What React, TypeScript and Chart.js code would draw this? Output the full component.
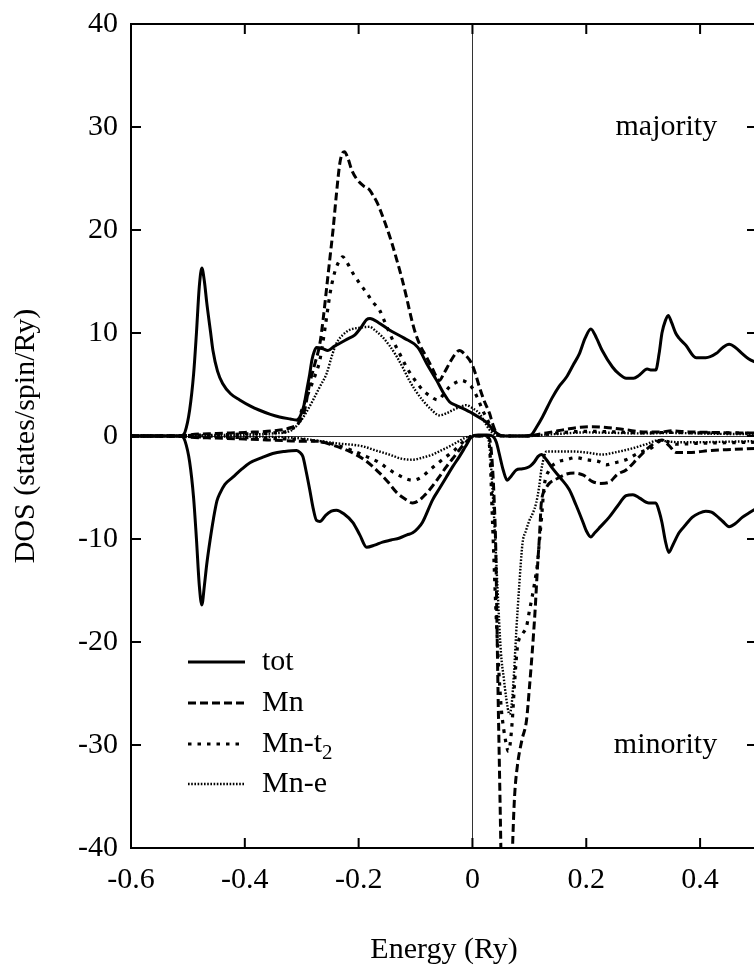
import React, { useEffect, useRef } from "react";
import { Chart, registerables } from "chart.js";

Chart.register(...registerables);

const FONT = "'Liberation Serif', 'Times New Roman', serif";

const xTickValues = [-0.6, -0.4, -0.2, 0, 0.2, 0.4];
const xTickLabels = ["-0.6", "-0.4", "-0.2", "0", "0.2", "0.4"];
const yTickValues = [-40, -30, -20, -10, 0, 10, 20, 30, 40];
const yTickLabels = ["-40", "-30", "-20", "-10", "0", "10", "20", "30", "40"];

const legendLabels = ["tot", "Mn", "Mn-t", "Mn-e"];

// ---- majority (spin up) ----
const totUpE = [-0.6, -0.52, -0.51, -0.505, -0.497, -0.49, -0.485, -0.48, -0.4755, -0.471, -0.467, -0.46, -0.456, -0.448, -0.439, -0.425, -0.409, -0.39, -0.374, -0.355, -0.339, -0.32, -0.309, -0.302, -0.296, -0.291, -0.286, -0.282, -0.278, -0.274, -0.264, -0.254, -0.243, -0.233, -0.22, -0.207, -0.195, -0.186, -0.18, -0.165, -0.146, -0.12, -0.096, -0.08, -0.063, -0.05, -0.04, -0.03, -0.018, 0, 0.012, 0.025, 0.035, 0.042, 0.05, 0.07, 0.09, 0.1, 0.105, 0.112, 0.123, 0.14, 0.152, 0.165, 0.177, 0.188, 0.198, 0.208, 0.218, 0.228, 0.246, 0.258, 0.27, 0.283, 0.293, 0.307, 0.315, 0.322, 0.328, 0.333, 0.339, 0.344, 0.35, 0.357, 0.363, 0.375, 0.393, 0.41, 0.428, 0.44, 0.451, 0.462, 0.474, 0.485, 0.5];
const totUpV = [0, 0, 0.05, 0.4, 2.5, 6, 10, 14.5, 16.3, 15, 13, 10, 8.3, 6.3, 5.1, 4.1, 3.5, 2.9, 2.5, 2.1, 1.85, 1.65, 1.55, 2.0, 3.0, 4.5, 6.0, 7.4, 8.2, 8.6, 8.5, 8.3, 8.7, 9.0, 9.4, 9.8, 10.6, 11.3, 11.4, 11.0, 10.3, 9.5, 8.6, 7.0, 5.4, 4.1, 3.3, 3.0, 2.7, 2.2, 1.8, 1.3, 0.7, 0.3, 0.05, 0, 0, 0.05, 0.2, 0.8, 1.85, 3.7, 4.8, 5.7, 6.9, 8.0, 9.5, 10.4, 9.5, 8.3, 6.7, 6.0, 5.6, 5.6, 5.9, 6.5, 6.4, 6.4, 8.0, 10.0, 11.2, 11.7, 11.0, 10.0, 9.5, 8.8, 7.6, 7.6, 8.0, 8.6, 8.9, 8.6, 8.0, 7.5, 7.1];

const mnUpE = [-0.6, -0.51, -0.5, -0.45, -0.4, -0.35, -0.32, -0.305, -0.295, -0.286, -0.277, -0.268, -0.262, -0.256, -0.25, -0.245, -0.239, -0.233, -0.228, -0.225, -0.219, -0.212, -0.204, -0.192, -0.181, -0.174, -0.167, -0.159, -0.151, -0.142, -0.133, -0.124, -0.116, -0.109, -0.102, -0.092, -0.081, -0.07, -0.058, -0.05, -0.04, -0.031, -0.023, -0.013, -0.002, 0.005, 0.012, 0.02, 0.03, 0.036, 0.042, 0.05, 0.1, 0.11, 0.13, 0.15, 0.17, 0.19, 0.21, 0.24, 0.27, 0.3, 0.33, 0.35, 0.38, 0.42, 0.46, 0.5];
const mnUpV = [0, 0, 0.1, 0.25, 0.35, 0.5, 0.8, 1.3, 2.5, 5.1, 7.0, 9.0, 11.5, 14.5, 17.5, 20, 23.5, 26.5, 27.5, 27.6, 27, 25.8, 25, 24.3, 23.9, 23.3, 22.6, 21.5, 20.3, 18.8, 17.1, 15.3, 13.5, 11.8, 10.3, 8.8, 7.7, 6.5, 5.4, 6.1, 7.1, 7.9, 8.3, 7.9, 7.1, 6.1, 4.8, 3.5, 2.2, 1.1, 0.3, 0, 0, 0.1, 0.3, 0.5, 0.7, 0.85, 0.9, 0.8, 0.6, 0.4, 0.4, 0.5, 0.4, 0.35, 0.3, 0.3];

const t2UpE = [-0.6, -0.51, -0.5, -0.45, -0.4, -0.35, -0.32, -0.309, -0.298, -0.286, -0.277, -0.268, -0.259, -0.25, -0.244, -0.239, -0.233, -0.228, -0.222, -0.21, -0.198, -0.186, -0.175, -0.163, -0.152, -0.14, -0.128, -0.116, -0.102, -0.088, -0.075, -0.061, -0.05, -0.04, -0.029, -0.019, -0.01, -0.002, 0.008, 0.018, 0.027, 0.035, 0.045, 0.06, 0.1, 0.12, 0.15, 0.2, 0.25, 0.3, 0.35, 0.4, 0.45, 0.5];
const t2UpV = [0, 0, 0.05, 0.1, 0.2, 0.3, 0.6, 1.2, 2.8, 4.5, 5.8, 7.4, 10.5, 13.9, 15.5, 16.4, 17.1, 17.4, 17.0, 15.8, 14.8, 13.9, 13.0, 12.2, 10.8, 9.3, 8.0, 6.7, 5.5, 4.5, 3.9, 3.5, 4.1, 4.8, 5.2, 5.4, 5.2, 4.8, 3.8, 2.5, 1.5, 0.6, 0.1, 0, 0, 0.1, 0.3, 0.45, 0.4, 0.3, 0.35, 0.3, 0.3, 0.25];

const eUpE = [-0.6, -0.51, -0.5, -0.45, -0.4, -0.35, -0.32, -0.304, -0.292, -0.28, -0.268, -0.256, -0.248, -0.239, -0.228, -0.216, -0.2, -0.181, -0.17, -0.158, -0.146, -0.133, -0.122, -0.111, -0.1, -0.088, -0.073, -0.058, -0.046, -0.035, -0.023, -0.011, 0, 0.012, 0.022, 0.03, 0.04, 0.05, 0.1, 0.12, 0.15, 0.2, 0.25, 0.3, 0.35, 0.4, 0.45, 0.5];
const eUpV = [0, 0, 0.05, 0.1, 0.15, 0.25, 0.5, 1.3, 2.3, 3.5, 4.8, 6.1, 7.6, 9.0, 9.8, 10.3, 10.5, 10.6, 10.2, 9.6, 8.8, 7.7, 6.6, 5.4, 4.4, 3.5, 2.6, 2.0, 2.2, 2.5, 2.8, 3.0, 2.7, 2.2, 1.3, 0.6, 0.15, 0, 0, 0.1, 0.2, 0.35, 0.3, 0.25, 0.3, 0.25, 0.2, 0.2];

// ---- minority (spin down) ----
const totDnE = [-0.6, -0.52, -0.51, -0.505, -0.497, -0.49, -0.485, -0.48, -0.4755, -0.471, -0.467, -0.461, -0.455, -0.449, -0.444, -0.435, -0.421, -0.405, -0.391, -0.37, -0.351, -0.33, -0.309, -0.303, -0.298, -0.292, -0.286, -0.28, -0.274, -0.268, -0.258, -0.248, -0.239, -0.225, -0.21, -0.198, -0.186, -0.172, -0.158, -0.143, -0.128, -0.115, -0.105, -0.095, -0.088, -0.07, -0.058, -0.046, -0.035, -0.023, -0.012, -0.002, 0.01, 0.025, 0.035, 0.042, 0.047, 0.054, 0.061, 0.068, 0.077, 0.086, 0.095, 0.102, 0.109, 0.115, 0.121, 0.13, 0.14, 0.155, 0.17, 0.182, 0.193, 0.2, 0.208, 0.215, 0.225, 0.24, 0.255, 0.27, 0.282, 0.293, 0.31, 0.322, 0.328, 0.333, 0.339, 0.345, 0.352, 0.363, 0.375, 0.386, 0.398, 0.41, 0.42, 0.428, 0.44, 0.451, 0.462, 0.474, 0.485, 0.5];
const totDnV = [0, 0, -0.05, -0.5, -2.5, -6, -10, -14.5, -16.4, -14.5, -12.5, -10.1, -8, -6.3, -5.6, -4.7, -4.0, -3.2, -2.6, -2.1, -1.7, -1.5, -1.4, -1.6, -2.0, -3.5, -5.2, -7.0, -8.2, -8.3, -7.7, -7.3, -7.2, -7.6, -8.4, -9.6, -10.8, -10.6, -10.3, -10.1, -9.9, -9.6, -9.4, -8.9, -8.4, -6.2, -5.1, -4.0, -3.0, -2.0, -1.0, -0.1, 0.1, 0.1, 0, -0.6, -1.7, -3.3, -4.3, -3.9, -3.3, -3.2, -3.1, -2.9, -2.5, -2.0, -1.8, -2.3, -3.1, -4.1, -5.2, -6.7, -8.2, -9.2, -9.8, -9.4, -8.8, -7.9, -6.8, -5.8, -5.7, -6.0, -6.5, -6.5, -7.3, -8.4, -10.2, -11.3, -10.6, -9.4, -8.6, -7.9, -7.5, -7.3, -7.4, -7.7, -8.3, -8.8, -8.5, -7.9, -7.5, -7.0];

const mnDnE = [-0.6, -0.51, -0.5, -0.45, -0.4, -0.35, -0.3, -0.274, -0.245, -0.216, -0.19, -0.163, -0.148, -0.133, -0.119, -0.105, -0.095, -0.085, -0.075, -0.06, -0.046, -0.032, -0.018, -0.008, 0, 0.02, 0.03, 0.034, 0.038, 0.041, 0.043, 0.045, 0.047, 0.049, 0.051, 0.06, 0.069, 0.071, 0.074, 0.079, 0.087, 0.095, 0.1, 0.105, 0.11, 0.114, 0.118, 0.121, 0.128, 0.135, 0.15, 0.165, 0.18, 0.195, 0.21, 0.225, 0.24, 0.255, 0.27, 0.29, 0.31, 0.333, 0.345, 0.358, 0.38, 0.42, 0.46, 0.5];
const mnDnV = [0, 0, -0.1, -0.2, -0.3, -0.4, -0.5, -0.5, -0.9, -1.5, -2.3, -3.6, -4.5, -5.5, -6.1, -6.5, -6.3, -5.8, -5.2, -4.1, -3.0, -2.0, -1.0, -0.4, 0, 0, -0.3, -2, -6, -11, -18, -25, -31, -37, -43, -50, -43, -39, -35, -32, -29.5, -27.6, -24.5, -21, -17, -13, -9.5, -6.5, -5.2, -4.6, -4.1, -3.7, -3.6, -3.8, -4.4, -4.6, -4.5, -3.7, -3.3, -2.2, -1.1, -0.4, -0.9, -1.6, -1.6, -1.4, -1.3, -1.2];

const t2DnE = [-0.6, -0.51, -0.5, -0.45, -0.4, -0.35, -0.3, -0.274, -0.245, -0.216, -0.186, -0.163, -0.148, -0.133, -0.119, -0.105, -0.09, -0.075, -0.06, -0.046, -0.032, -0.019, -0.008, 0, 0.025, 0.03, 0.035, 0.042, 0.05, 0.055, 0.059, 0.063, 0.066, 0.07, 0.074, 0.079, 0.087, 0.095, 0.1, 0.105, 0.11, 0.114, 0.118, 0.121, 0.126, 0.135, 0.147, 0.165, 0.182, 0.2, 0.223, 0.235, 0.25, 0.27, 0.29, 0.316, 0.333, 0.345, 0.358, 0.4, 0.45, 0.5];
const t2DnV = [0, 0, -0.05, -0.1, -0.15, -0.25, -0.35, -0.5, -0.8, -1.3, -2.0, -2.6, -3.2, -3.7, -4.1, -4.3, -4.0, -3.3, -2.6, -2.0, -1.4, -0.7, -0.2, 0, 0, -1, -8, -17.9, -26, -28.5, -29.8, -30.6, -30, -27.6, -24, -20.5, -19.3, -18.5, -17, -15.6, -14, -12.5, -10, -8.2, -4.9, -3.3, -2.6, -2.3, -2.1, -2.3, -2.5, -2.8, -2.6, -2.3, -1.7, -1.1, -0.4, -0.6, -0.8, -0.7, -0.65, -0.6];

const eDnE = [-0.6, -0.51, -0.45, -0.4, -0.34, -0.3, -0.28, -0.24, -0.193, -0.17, -0.146, -0.125, -0.105, -0.088, -0.07, -0.055, -0.04, -0.027, -0.014, 0, 0.025, 0.03, 0.035, 0.04, 0.044, 0.05, 0.055, 0.059, 0.065, 0.069, 0.073, 0.077, 0.082, 0.088, 0.094, 0.1, 0.106, 0.112, 0.117, 0.121, 0.126, 0.13, 0.153, 0.175, 0.2, 0.228, 0.25, 0.281, 0.305, 0.328, 0.34, 0.36, 0.4, 0.45, 0.5];
const eDnV = [0, 0, -0.05, -0.05, -0.1, -0.25, -0.4, -0.7, -1.0, -1.4, -1.8, -2.2, -2.3, -2.1, -1.8, -1.4, -1.0, -0.6, -0.2, 0, 0, -1, -5, -10, -14.7, -21, -23.5, -25.3, -27, -26, -23, -19, -14.7, -10.4, -9.2, -8.2, -7.5, -6.5, -5, -3.3, -2.0, -1.5, -1.5, -1.5, -1.6, -1.8, -1.6, -1.2, -0.8, -0.4, -0.5, -0.6, -0.6, -0.55, -0.5];

type Style = { width: number; dash: number[] };
const STYLE_TOT: Style = { width: 3, dash: [] };
const STYLE_MN: Style = { width: 3, dash: [8, 4] };
const STYLE_T2: Style = { width: 3.2, dash: [3.5, 6] };
const STYLE_E: Style = { width: 2.4, dash: [1.6, 1.6] };

function pts(E: number[], V: number[]) {
  return E.map((x, i) => ({ x, y: V[i] }));
}

function ds(label: string, E: number[], V: number[], s: Style) {
  return {
    label,
    data: pts(E, V),
    borderColor: "#000",
    backgroundColor: "#000",
    borderWidth: s.width,
    borderDash: s.dash,
    pointRadius: 0,
    pointHoverRadius: 0,
    fill: false,
    cubicInterpolationMode: "monotone" as const,
    clip: 0,
  };
}

const decorPlugin = {
  id: "decor",
  beforeDatasetsDraw(chart: any) {
    const { ctx, chartArea, scales } = chart;
    const { left, right, top, bottom } = chartArea;
    const x0 = Math.round(scales.x.getPixelForValue(0)) + 0.5;
    const y0 = Math.round(scales.y.getPixelForValue(0)) + 0.5;
    ctx.save();
    ctx.strokeStyle = "#333";
    ctx.lineWidth = 1;
    ctx.beginPath();
    ctx.moveTo(x0, top);
    ctx.lineTo(x0, bottom);
    ctx.moveTo(left, y0);
    ctx.lineTo(right, y0);
    ctx.stroke();
    ctx.restore();
  },
  afterDatasetsDraw(chart: any) {
    const { ctx, chartArea, scales } = chart;
    const { left, right, top, bottom } = chartArea;
    ctx.save();
    ctx.strokeStyle = "#000";
    ctx.lineWidth = 2;
    ctx.setLineDash([]);
    ctx.strokeRect(left, top, right - left, bottom - top);
    ctx.beginPath();
    for (const v of xTickValues) {
      const px = scales.x.getPixelForValue(v);
      ctx.moveTo(px, bottom);
      ctx.lineTo(px, bottom - 10);
      ctx.moveTo(px, top);
      ctx.lineTo(px, top + 10);
    }
    for (const v of yTickValues) {
      const py = scales.y.getPixelForValue(v);
      ctx.moveTo(left, py);
      ctx.lineTo(left + 10, py);
      ctx.moveTo(right, py);
      ctx.lineTo(right - 10, py);
    }
    ctx.stroke();

    // annotations
    ctx.fillStyle = "#000";
    ctx.font = `30px ${FONT}`;
    ctx.textAlign = "right";
    ctx.textBaseline = "middle";
    ctx.fillText("majority", scales.x.getPixelForValue(0.43), scales.y.getPixelForValue(30));
    ctx.fillText("minority", scales.x.getPixelForValue(0.43), scales.y.getPixelForValue(-30));

    // legend
    const styles = [STYLE_TOT, STYLE_MN, STYLE_T2, STYLE_E];
    const rowY = [638, 679, 720, 760];
    const lx0 = left + 57;
    const lx1 = left + 114;
    const tx = left + 131;
    for (let i = 0; i < 4; i++) {
      const y = top + rowY[i];
      ctx.beginPath();
      ctx.lineWidth = styles[i].width;
      ctx.setLineDash(styles[i].dash);
      ctx.moveTo(lx0, y);
      ctx.lineTo(lx1, y);
      ctx.stroke();
      ctx.setLineDash([]);
      ctx.textAlign = "left";
      ctx.font = `30px ${FONT}`;
      ctx.fillText(legendLabels[i], tx, y);
      if (i === 2) {
        const w = ctx.measureText(legendLabels[i]).width;
        ctx.font = `21px ${FONT}`;
        ctx.fillText("2", tx + w, y + 9);
      }
    }
    ctx.restore();
  },
};

export default function App() {
  const ref = useRef<HTMLCanvasElement>(null);
  useEffect(() => {
    if (!ref.current) return;
    const chart = new Chart(ref.current, {
      type: "line",
      data: {
        datasets: [
          ds("tot", totUpE, totUpV, STYLE_TOT),
          ds("Mn", mnUpE, mnUpV, STYLE_MN),
          ds("Mn-t2", t2UpE, t2UpV, STYLE_T2),
          ds("Mn-e", eUpE, eUpV, STYLE_E),
          ds("tot (minority)", totDnE, totDnV, STYLE_TOT),
          ds("Mn (minority)", mnDnE, mnDnV, STYLE_MN),
          ds("Mn-t2 (minority)", t2DnE, t2DnV, STYLE_T2),
          ds("Mn-e (minority)", eDnE, eDnV, STYLE_E),
        ],
      },
      options: {
        animation: false,
        responsive: false,
        devicePixelRatio: 1,
        layout: { padding: { top: 24, right: 33, left: 0, bottom: 0 } },
        plugins: {
          legend: { display: false },
          tooltip: { enabled: false },
        },
        events: [],
        scales: {
          x: {
            type: "linear",
            min: -0.6,
            max: 0.5,
            afterBuildTicks: (s: any) => {
              s.ticks = xTickValues.map((v) => ({ value: v }));
            },
            afterFit: (s: any) => {
              s.height = 122;
              s.paddingLeft = 0;
              s.paddingRight = 0;
            },
            grid: { display: false, drawTicks: false },
            border: { display: false },
            ticks: {
              autoSkip: false,
              maxRotation: 0,
              padding: 14,
              color: "#000",
              font: { family: FONT, size: 30 },
              callback: (_v: any, i: number) => xTickLabels[i],
            },
            title: {
              display: true,
              text: "Energy (Ry)",
              color: "#000",
              font: { family: FONT, size: 30 },
              padding: { top: 0, bottom: 2 },
            },
          },
          y: {
            type: "linear",
            min: -40,
            max: 40,
            afterBuildTicks: (s: any) => {
              s.ticks = yTickValues.map((v) => ({ value: v }));
            },
            afterFit: (s: any) => {
              s.width = 131;
              s.paddingTop = 0;
              s.paddingBottom = 0;
            },
            grid: { display: false, drawTicks: false },
            border: { display: false },
            ticks: {
              autoSkip: false,
              padding: 13,
              color: "#000",
              font: { family: FONT, size: 30 },
              callback: (_v: any, i: number) => yTickLabels[i],
            },
            title: {
              display: true,
              text: "DOS (states/spin/Ry)",
              color: "#000",
              font: { family: FONT, size: 30 },
              padding: { top: 8, bottom: 0 },
            },
          },
        },
      },
      plugins: [decorPlugin],
    } as any);
    return () => chart.destroy();
  }, []);
  return (
    <div
      style={{
        position: "fixed",
        left: 0,
        top: 0,
        width: 754,
        height: 970,
        overflow: "hidden",
        background: "#fff",
      }}
    >
      <canvas ref={ref} width={790} height={970} style={{ display: "block" }} />
    </div>
  );
}
